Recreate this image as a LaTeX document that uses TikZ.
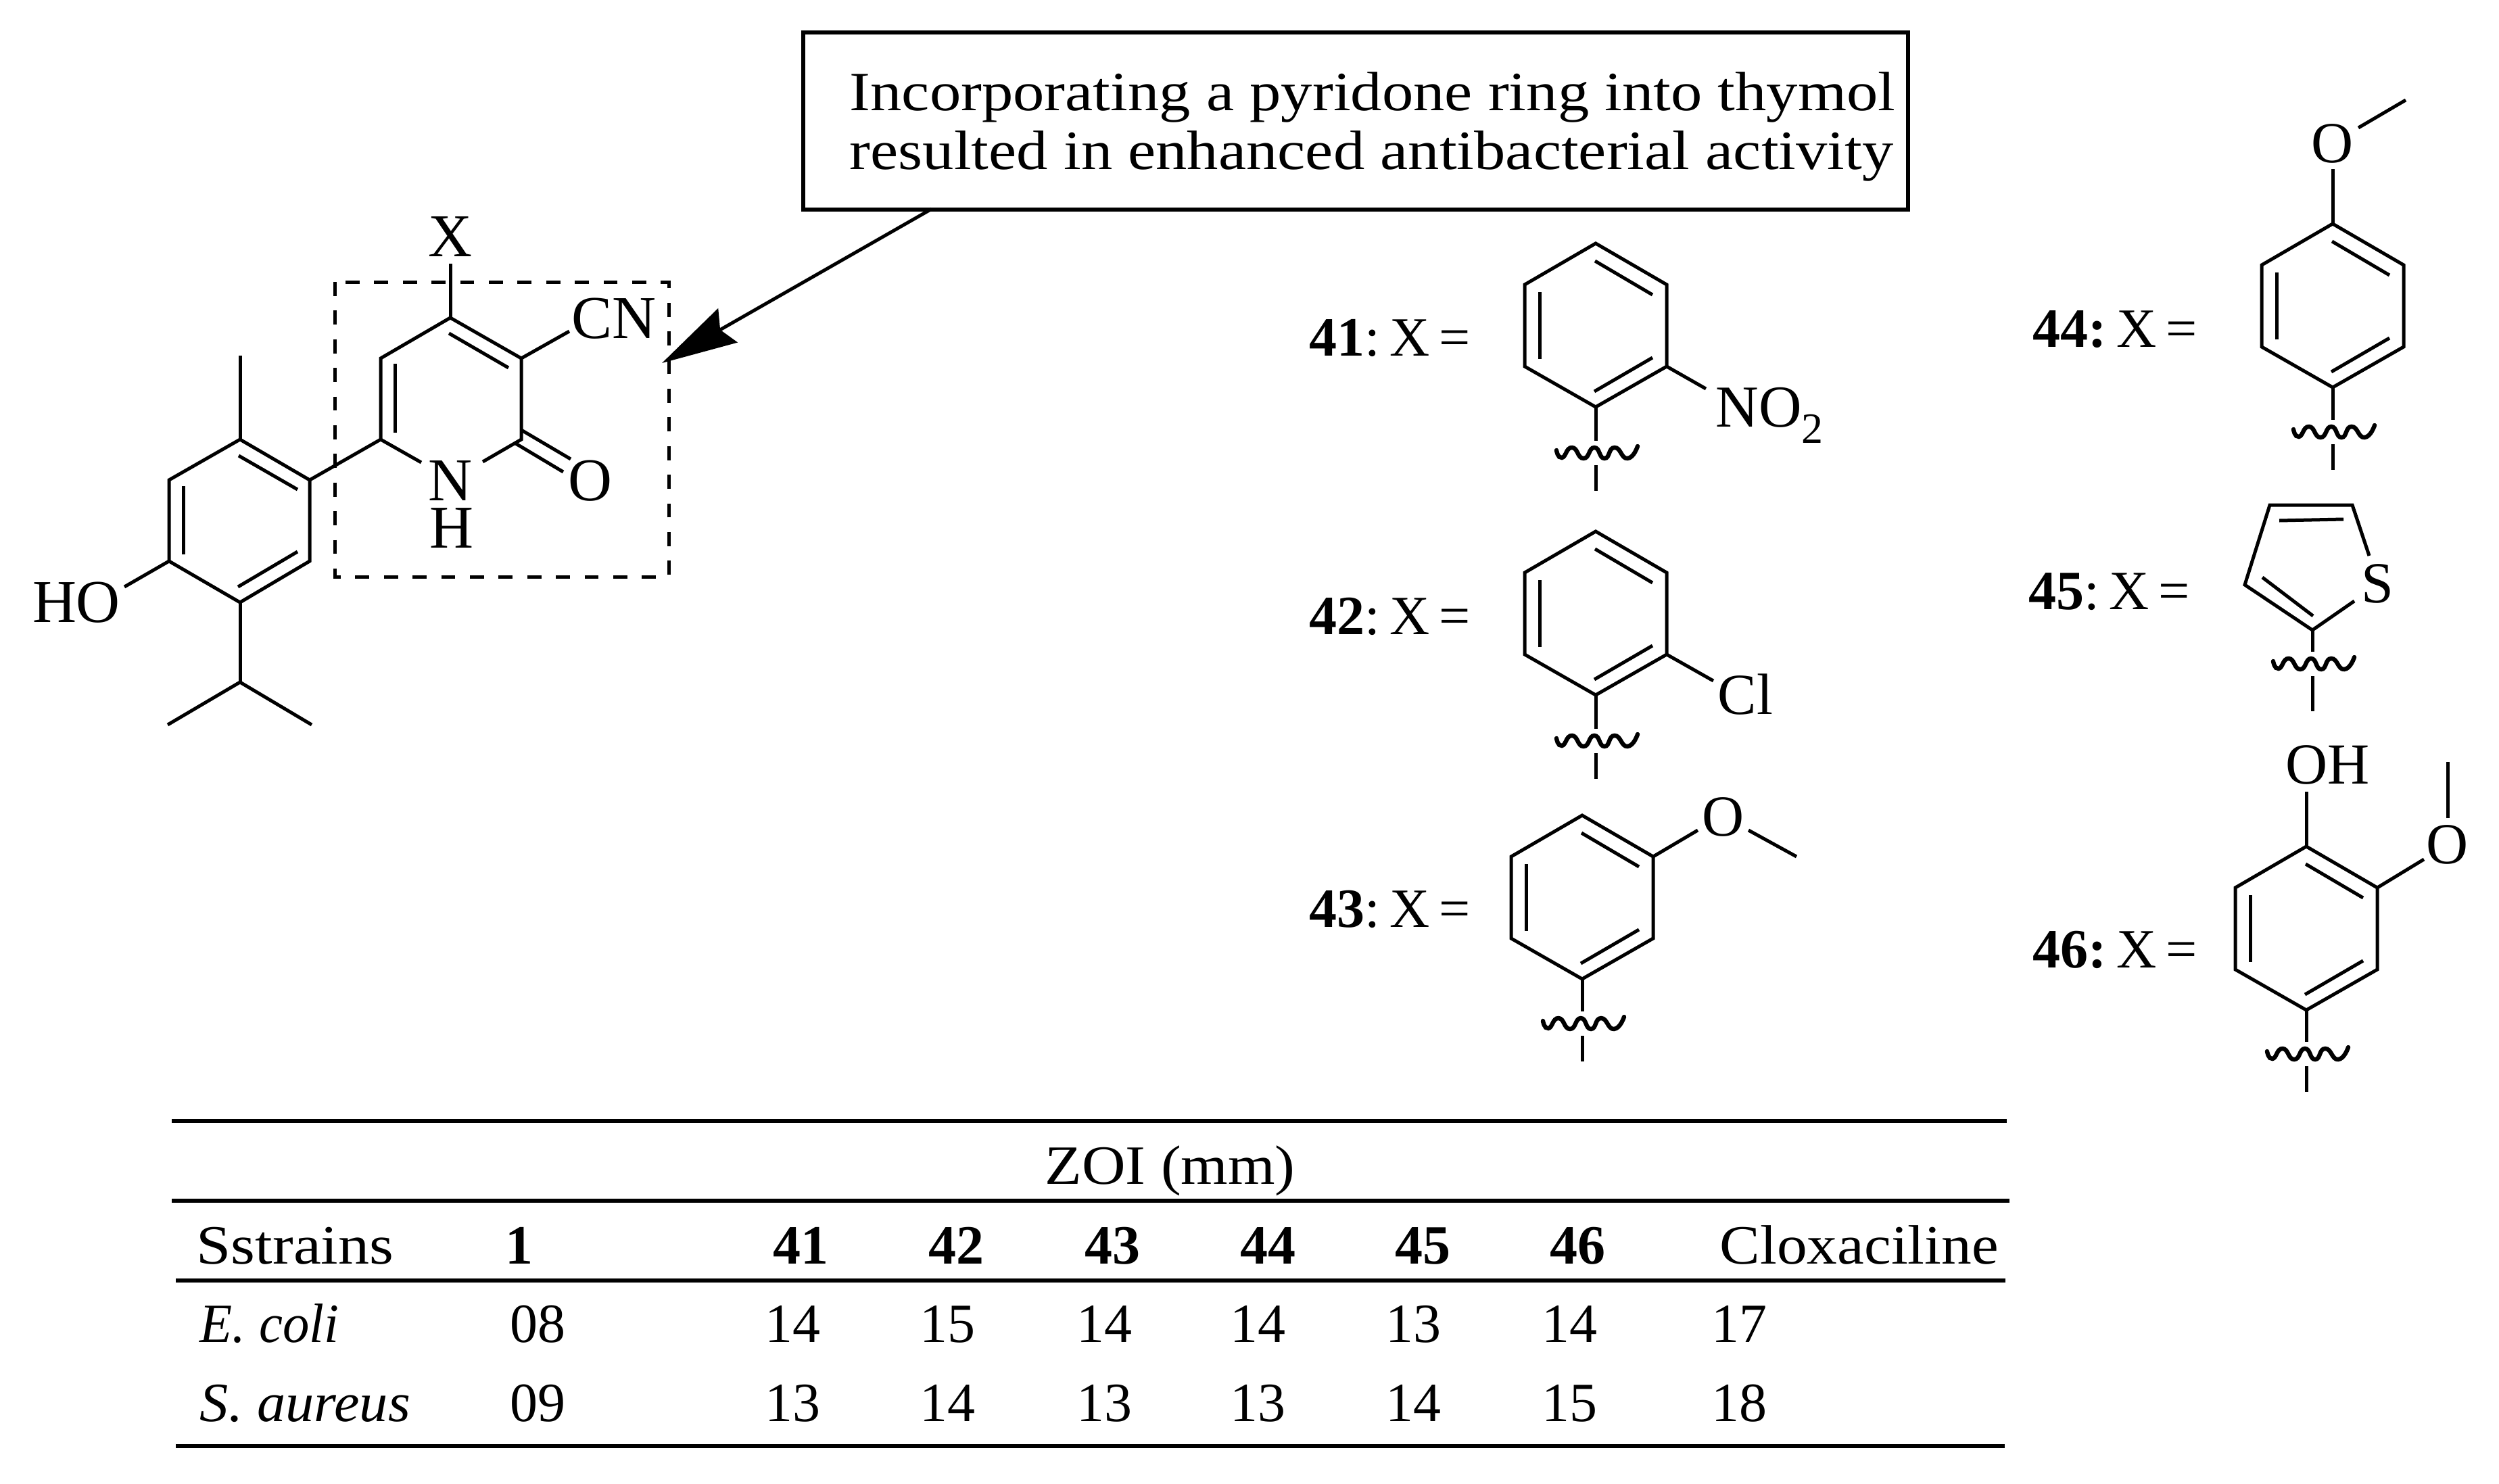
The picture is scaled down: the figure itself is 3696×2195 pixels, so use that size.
\documentclass[tikz,border=0pt]{standalone}
\usepackage{fontspec}
\usepackage{graphicx}
\usetikzlibrary{arrows.meta}
\setmainfont{Liberation Serif}
\newfontfamily\palwide[FakeStretch=1.09]{Liberation Serif}
\newfontfamily\palcall[FakeStretch=1.13]{Liberation Serif}
\newcommand{\labgap}{\hspace{.17em}}
\tikzset{
  bond/.style={line width=1.25pt,line cap=butt,line join=miter},
  wavebond/.style={line width=1.6pt,line cap=round},
  atomL/.style={inner sep=0pt,anchor=base,font=\fontsize{22.5}{24}\selectfont},
  atomR/.style={inner sep=0pt,anchor=base,font=\fontsize{21.5}{24}\selectfont},
  lab/.style={inner sep=0pt,anchor=base west,font=\fontsize{20.5}{24}\selectfont},
  cell/.style={inner sep=0pt,anchor=base,font=\fontsize{20.5}{24}\selectfont},
  cellw/.style={inner sep=0pt,anchor=base west,font=\palwide\fontsize{20.5}{24}\selectfont},
  cellc/.style={inner sep=0pt,anchor=base west,font=\palcall\fontsize{20.5}{24}\selectfont},
  celli/.style={inner sep=0pt,anchor=base west,font=\fontsize{20.5}{24}\selectfont\itshape},
  rule/.style={line width=1.5pt},
}
% benzene ring: name, x and y of the top atom
\newcommand{\arylring}[3]{%
  \begin{scope}[shift={(#2,#3)}]
    \coordinate (#1t) at (0,0);
    \coordinate (#1ur) at (105,61);
    \coordinate (#1lr) at (105,182);
    \coordinate (#1b) at (0,242);
    \coordinate (#1ll) at (-105,182);
    \coordinate (#1ul) at (-105,61);
    \draw[bond] (#1t) -- (#1ur) -- (#1lr) -- (#1b) -- (#1ll) -- (#1ul) -- cycle;
    \draw[bond] (-1,26) -- (84,76);
    \draw[bond] (-83,72) -- (-83,171);
    \draw[bond] (-2,219) -- (84,169);
  \end{scope}}
% cut bond: atom name, bond x, wave y, stub length
\newcommand{\cutbond}[4]{%
  \coordinate (#1cut) at (#2,#3-18);
  \draw[bond] (#1) -- (#1cut);
  \begin{scope}[shift={(#2,#3)}]
    \draw[wavebond] plot[smooth,tension=1] coordinates {(-58,-4) (-50,7) (-35,-8) (-18,8) (-2,-8) (13,8) (28,-8) (47,8) (62,-10)};
    \draw[bond] (0,18) -- (0,18+#4);
  \end{scope}}
\begin{document}
\begin{tikzpicture}[x=0.25pt,y=-0.25pt]
\useasboundingbox (0,0) rectangle (3696,2195);
\fill[white] (0,0) rectangle (3696,2195);

% callout
\node[draw,line width=1.35pt,outer sep=0pt,minimum width=408.5pt,minimum height=65.5pt,inner sep=0pt,anchor=north west] (callout) at (1188,48) {};
\node[cellc] (line1) at (1256,163) {Incorporating a pyridone ring into thymol};
\node[cellc] (line2) at (1256,250) {resulted in enhanced antibacterial activity};
\coordinate (arrowstart) at (1378,309);
\coordinate (arrowtip) at (979,537);
\draw[line width=1.25pt,-{Stealth[length=28pt,width=14.4pt,inset=3.2pt]}] (arrowstart) -- (arrowtip);

% dashed box
\draw[line width=1.25pt,dash pattern=on 5.2pt off 5.4pt] (495,417) rectangle (989,853);

% pyridone
\coordinate (c4) at (666,470);
\coordinate (c3) at (771,530);
\coordinate (c2) at (771,650);
\coordinate (c6) at (563,650);
\coordinate (c5) at (563,530);
\coordinate (nL) at (623,684);
\coordinate (nR) at (714,683);
\node[atomL] (X) at (666,379) {X};
\node[atomL] (CN) at (908,500) {CN};
\node[atomL] (N) at (666,740) {N};
\node[atomL] (H) at (668,810) {H};
\node[atomL] (O) at (873,740) {O};
\node[atomL] (HO) at (113,920) {HO};
\coordinate (xb) at (666,390);
\coordinate (cnb) at (842,490);
\draw[bond] (nL) -- (c6) -- (c5) -- (c4) -- (c3) -- (c2) -- (nR);
\draw[bond] (c4) -- (xb);
\draw[bond] (c3) -- (cnb);
\draw[bond] (584,538) -- (584,640);
\draw[bond] (664,493) -- (752,544);
\draw[bond] (771,636) -- (844,679);
\draw[bond] (761,655) -- (833,698);

% thymol ring
\coordinate (r1) at (458,710);
\coordinate (r2) at (355,650);
\coordinate (r3) at (250,710);
\coordinate (r4) at (250,830);
\coordinate (r5) at (355,891);
\coordinate (r6) at (458,830);
\coordinate (me) at (355,526);
\coordinate (hob) at (184,868);
\coordinate (ipr) at (355,1009);
\coordinate (ipa) at (248,1072);
\coordinate (ipb) at (461,1072);
\draw[bond] (r1) -- (r2) -- (r3) -- (r4) -- (r5) -- (r6) -- cycle;
\draw[bond] (r1) -- (c6);
\draw[bond] (r2) -- (me);
\draw[bond] (r4) -- (hob);
\draw[bond] (r5) -- (ipr);
\draw[bond] (ipa) -- (ipr) -- (ipb);
\draw[bond] (353,674) -- (440,724);
\draw[bond] (271,719) -- (271,820);
\draw[bond] (352,868) -- (440,816);

% 41
\node[lab] (l41) at (1936,526) {\textbf{41}:\labgap X\labgap =};
\arylring{a}{2360}{360}
\cutbond{ab}{2360}{670}{38}
\node[atomR,anchor=base west,font=\fontsize{22}{24}\selectfont] (no2) at (2537,631) {NO\raisebox{-6pt}{\fontsize{16}{16}\selectfont 2}};
\coordinate (no2b) at (2523,575);
\draw[bond] (alr) -- (no2b);

% 42
\node[lab] (l42) at (1936,938) {\textbf{42}:\labgap X\labgap =};
\arylring{b}{2360}{786}
\cutbond{bb}{2360}{1096}{38}
\node[atomR,anchor=base west] (cl) at (2540,1056) {Cl};
\coordinate (clb) at (2534,1007);
\draw[bond] (blr) -- (clb);

% 43
\node[lab] (l43) at (1936,1371) {\textbf{43}:\labgap X\labgap =};
\arylring{c}{2340}{1206}
\cutbond{cb}{2340}{1514}{38}
\node[atomR] (o43) at (2549,1236) {O};
\coordinate (o43a) at (2511,1228);
\coordinate (o43b) at (2586,1228);
\coordinate (me43) at (2657,1267);
\draw[bond] (cur) -- (o43a);
\draw[bond] (o43b) -- (me43);

% 44
\node[lab] (l44) at (3006,513) {\textbf{44:}\labgap X\labgap =};
\arylring{d}{3450}{331}
\cutbond{db}{3450}{639}{38}
\node[atomR] (o44) at (3450,240) {O};
\coordinate (o44a) at (3450,250);
\coordinate (o44b) at (3488,189);
\coordinate (me44) at (3558,148);
\draw[bond] (dt) -- (o44a);
\draw[bond] (o44b) -- (me44);

% 45
\node[lab] (l45) at (3000,901) {\textbf{45}:\labgap X\labgap =};
\coordinate (t1) at (3357,747);
\coordinate (t2) at (3479,747);
\coordinate (t3) at (3504,822);
\coordinate (t4) at (3482,889);
\coordinate (t5) at (3420,932);
\coordinate (t6) at (3320,865);
\node[atomR] (S) at (3516,891) {S};
\draw[bond] (t3) -- (t2) -- (t1) -- (t6) -- (t5) -- (t4);
\draw[bond] (3371,770) -- (3466,768);
\draw[bond] (3346,854) -- (3421,911);
\cutbond{t5}{3420}{982}{52}

% 46
\node[lab] (l46) at (3006,1431) {\textbf{46:}\labgap X\labgap =};
\arylring{e}{3411}{1252}
\cutbond{eb}{3411}{1559}{38}
\node[atomR,anchor=base west] (oh) at (3380,1159) {OH};
\node[atomR] (o46) at (3620,1277) {O};
\coordinate (ohb) at (3411,1171);
\coordinate (o46a) at (3585,1271);
\coordinate (o46b) at (3620,1210);
\coordinate (me46) at (3620,1127);
\draw[bond] (et) -- (ohb);
\draw[bond] (eur) -- (o46a);
\draw[bond] (o46b) -- (me46);

% table
\coordinate (ra) at (254,1657.5); \coordinate (rb) at (2968,1657.5);
\coordinate (rc) at (254,1776);   \coordinate (rd) at (2972,1776);
\coordinate (re) at (260,1894);   \coordinate (rf) at (2966,1894);
\coordinate (rg) at (260,2139);   \coordinate (rh) at (2965,2139);
\draw[rule] (ra) -- (rb);
\draw[rule] (rc) -- (rd);
\draw[rule] (re) -- (rf);
\draw[rule] (rg) -- (rh);
\node[cellw] (zoi) at (1545,1751) {ZOI (mm)};
\node[cellw] (sst) at (290,1869) {\scalebox{1.03}[1]{Sstrains}};
\node[cell] (h1) at (768,1869) {\textbf{1}};
\node[cell] (h41) at (1184,1869) {\textbf{41}};
\node[cell] (h42) at (1414,1869) {\textbf{42}};
\node[cell] (h43) at (1645,1869) {\textbf{43}};
\node[cell] (h44) at (1875,1869) {\textbf{44}};
\node[cell] (h45) at (2104,1869) {\textbf{45}};
\node[cell] (h46) at (2333,1869) {\textbf{46}};
\node[cellw] (clx) at (2543,1869) {Cloxaciline};
\node[celli] (eco) at (295,1985) {\scalebox{.96}[1]{E. coli}};
\node[cell] (e1) at (795,1985) {08};
\node[cell] (e41) at (1172,1985) {14};
\node[cell] (e42) at (1401,1985) {15};
\node[cell] (e43) at (1633,1985) {14};
\node[cell] (e44) at (1860,1985) {14};
\node[cell] (e45) at (2090,1985) {13};
\node[cell] (e46) at (2321,1985) {14};
\node[cell] (e47) at (2572,1985) {17};
\node[celli] (sau) at (295,2102) {\scalebox{1.03}[1]{S. aureus}};
\node[cell] (s1) at (795,2102) {09};
\node[cell] (s41) at (1172,2102) {13};
\node[cell] (s42) at (1401,2102) {14};
\node[cell] (s43) at (1633,2102) {13};
\node[cell] (s44) at (1860,2102) {13};
\node[cell] (s45) at (2090,2102) {14};
\node[cell] (s46) at (2321,2102) {15};
\node[cell] (s47) at (2572,2102) {18};
\end{tikzpicture}
\end{document}
